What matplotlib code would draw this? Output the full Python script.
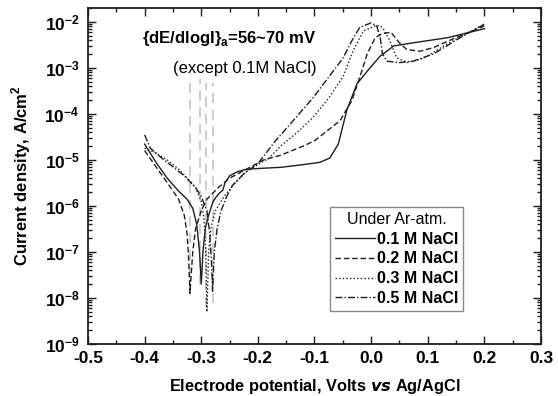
import matplotlib
matplotlib.use("Agg")
import matplotlib.pyplot as plt
from matplotlib.ticker import LogLocator, MultipleLocator, NullFormatter, FixedLocator, LogFormatterSciNotation

plt.rcParams['font.family'] = ['Liberation Sans', 'DejaVu Sans']
plt.rcParams['mathtext.fontset'] = 'custom'
plt.rcParams['mathtext.bf'] = 'Liberation Sans:bold'
plt.rcParams['mathtext.rm'] = 'Liberation Sans'

# ---------------- data ----------------
labels = ["0.1 M NaCl", "0.2 M NaCl", "0.3 M NaCl", "0.5 M NaCl"]

e_01 = [-0.40, -0.38, -0.36, -0.34, -0.325, -0.315, -0.308, -0.303, -0.300, -0.297, -0.293, -0.287,
        -0.279, -0.270, -0.262, -0.258, -0.250, -0.235, -0.219, -0.190, -0.160, -0.120, -0.090,
        -0.073, -0.058, -0.043, -0.025, -0.002, 0.016, 0.040, 0.074, 0.134, 0.200]
i_01 = [2.2e-5, 8.9e-6, 4.0e-6, 2.1e-6, 1.4e-6, 8.9e-7, 4.0e-7, 1.0e-7, 2.0e-8, 1.0e-7, 3.2e-7, 6.3e-7,
        1.26e-6, 1.8e-6, 2.2e-6, 3.2e-6, 4.5e-6, 5.6e-6, 6.3e-6, 6.6e-6, 6.9e-6, 7.9e-6, 8.9e-6,
        1.1e-5, 2.2e-5, 1.2e-4, 4.5e-4, 1.0e-3, 1.8e-3, 3.0e-3, 3.5e-3, 4.5e-3, 7.1e-3]

e_02 = [-0.40, -0.38, -0.36, -0.34, -0.33, -0.325, -0.322, -0.320, -0.315, -0.310, -0.300, -0.290,
        -0.270, -0.250, -0.220, -0.190, -0.160, -0.120, -0.100, -0.055, -0.034, -0.020, -0.007,
        0.007, 0.020, 0.035, 0.050, 0.063, 0.086, 0.110, 0.145, 0.200]
i_02 = [1.6e-5, 7.1e-6, 3.2e-6, 1.4e-6, 6.3e-7, 2.5e-7, 6.3e-8, 1.26e-8, 1.0e-7, 3.2e-7, 7.9e-7, 1.4e-6,
        2.5e-6, 4.0e-6, 6.3e-6, 1.0e-5, 1.26e-5, 2.0e-5, 2.6e-5, 7.1e-5, 1.95e-4, 6.3e-4, 2.0e-3,
        4.5e-3, 5.6e-3, 5.9e-3, 3.5e-3, 2.5e-3, 2.3e-3, 2.75e-3, 4.3e-3, 8.1e-3]

e_03 = [-0.40, -0.38, -0.36, -0.34, -0.32, -0.310, -0.300, -0.295, -0.292, -0.290, -0.287, -0.283,
        -0.275, -0.260, -0.240, -0.220, -0.200, -0.180, -0.160, -0.130, -0.103, -0.075, -0.050,
        -0.032, -0.014, 0.010, 0.020, 0.033, 0.045, 0.063, 0.092, 0.134, 0.200]
i_03 = [1.8e-5, 1.4e-5, 1.0e-5, 6.3e-6, 3.5e-6, 2.5e-6, 1.26e-6, 5.0e-7, 1.0e-7, 5.0e-9, 1.0e-7, 3.2e-7,
        7.9e-7, 1.6e-6, 3.2e-6, 5.6e-6, 7.9e-6, 1.1e-5, 2.0e-5, 4.0e-5, 8.3e-5, 2.2e-4, 6.3e-4,
        2.3e-3, 6.3e-3, 8.5e-3, 7.6e-3, 3.9e-3, 1.66e-3, 1.3e-3, 1.6e-3, 3.3e-3, 8.9e-3]

e_05 = [-0.40, -0.39, -0.37, -0.35, -0.33, -0.31, -0.300, -0.290, -0.285, -0.282, -0.280, -0.277,
        -0.272, -0.265, -0.255, -0.245, -0.240, -0.225, -0.200, -0.170, -0.143, -0.103, -0.075,
        -0.050, -0.034, -0.020, 0.000, 0.010, 0.016, 0.020, 0.028, 0.050, 0.074, 0.110, 0.157, 0.200]
i_05 = [3.5e-5, 1.8e-5, 1.1e-5, 7.1e-6, 4.5e-6, 2.5e-6, 1.6e-6, 7.9e-7, 2.5e-7, 6.3e-8, 1.4e-8, 1.0e-7,
        3.2e-7, 7.9e-7, 1.6e-6, 2.8e-6, 3.2e-6, 5.0e-6, 8.3e-6, 2.5e-5, 6.0e-5, 2.2e-4, 6.3e-4,
        1.6e-3, 3.9e-3, 7.6e-3, 9.5e-3, 8.1e-3, 4.6e-3, 2.0e-3, 1.4e-3, 1.3e-3, 1.4e-3, 2.0e-3, 4.5e-3, 8.9e-3]

# gray vertical guide lines (Ecorr markers)
guide_x = [-0.320, -0.303, -0.292, -0.279]
guide_top = [6.8e-4, 5.8e-4, 4.6e-4, 4.6e-4]
guide_bottom = [1.26e-8, 2.0e-8, 6.3e-9, 7.9e-9]

x_ticks = [-0.5, -0.4, -0.3, -0.2, -0.1, 0.0, 0.1, 0.2, 0.3]
y_ticks = [1e-9, 1e-8, 1e-7, 1e-6, 1e-5, 1e-4, 1e-3, 1e-2]

# ---------------- plot ----------------
fig = plt.figure(figsize=(5.58, 3.96), dpi=100)
ax = fig.add_axes([88/558, 1-344/396, (541-88)/558, (344-8)/396])

ink = '#1e1e1e'
for gx, gt, gb in zip(guide_x, guide_top, guide_bottom):
    ax.plot([gx, gx], [gb, gt], color='#c4c4c4', lw=1.2, dashes=(6, 4), zorder=1)

ax.plot(e_01, i_01, color=ink, lw=1.0, ls='-', label=labels[0])
ax.plot(e_02, i_02, color=ink, lw=1.0, dashes=(4, 2), label=labels[1])
ax.plot(e_03, i_03, color=ink, lw=1.0, dashes=(1, 1.6), label=labels[2])
ax.plot(e_05, i_05, color=ink, lw=1.0, dashes=(5, 1.5, 1, 1.5), label=labels[3])

ax.set_yscale('log')
ax.set_xlim(-0.5, 0.3)
ax.set_ylim(1e-9, 0.02)
ax.xaxis.set_major_locator(FixedLocator(x_ticks))
ax.xaxis.set_minor_locator(MultipleLocator(0.05))
ax.set_xticklabels([f"{t:.1f}" for t in x_ticks])
ax.yaxis.set_major_locator(FixedLocator(y_ticks))
ax.yaxis.set_major_formatter(LogFormatterSciNotation())
ax.yaxis.set_minor_locator(LogLocator(base=10, subs=range(2, 10), numticks=20))
ax.yaxis.set_minor_formatter(NullFormatter())

ax.tick_params(which='both', direction='in', top=True, right=True, width=1.0, color=ink)
ax.tick_params(which='major', length=6)
ax.tick_params(which='minor', length=3)
ax.tick_params(axis='x', which='major', pad=5, labelsize=12.5)
ax.tick_params(axis='y', which='major', pad=6, labelsize=12.5)
for lab in ax.get_xticklabels() + ax.get_yticklabels():
    lab.set_fontweight('bold')
for sp in ax.spines.values():
    sp.set_linewidth(1.3)
    sp.set_color(ink)

ax.set_xlabel(r"Electrode potential, Volts $\mathbfit{vs}$ Ag/AgCl", fontsize=11.8, fontweight='bold', labelpad=8)
ax.set_ylabel("Current density, A/cm$^\\mathbf{2}$", fontsize=12, fontweight='bold', labelpad=8)

ax.text(229/558, 1-39/396, r"{dE/dlogI}$_\mathbf{a}$=56~70 mV", transform=fig.transFigure,
        ha='center', va='center', fontsize=12, fontweight='bold')
ax.text(245/558, 1-68/396, "(except 0.1M NaCl)", transform=fig.transFigure,
        ha='center', va='center', fontsize=12)

leg = ax.legend(loc='upper left', bbox_to_anchor=(330/558, 1-207/396), bbox_transform=fig.transFigure,
                borderaxespad=0, title="Under Ar-atm.", fontsize=11.5, title_fontsize=11.5,
                handlelength=2.5, handletextpad=0.15, labelspacing=0.3, borderpad=0.3,
                fancybox=False, edgecolor='#888888', framealpha=1)
for t in leg.get_texts():
    t.set_fontweight('bold')
leg.get_frame().set_linewidth(1.0)

fig.savefig("out.png", dpi=100)
